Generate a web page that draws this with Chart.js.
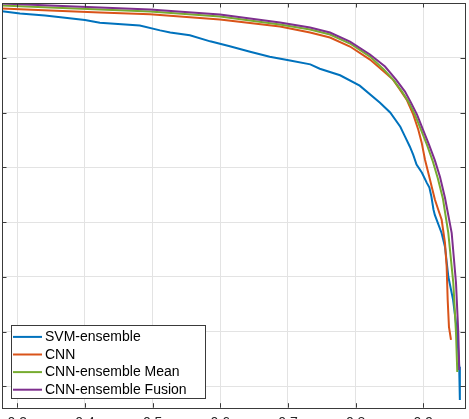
<!DOCTYPE html>
<html>
<head>
<meta charset="utf-8">
<script src="https://cdn.jsdelivr.net/npm/chart.js@4/dist/chart.umd.min.js"></script>
<style>
  html, body { margin: 0; padding: 0; background: #ffffff; overflow: hidden; }
  #wrap { position: relative; width: 469px; height: 419px; overflow: hidden; }
  canvas { position: absolute; left: 0; top: 0; }
</style>
</head>
<body>
<div id="wrap"><canvas id="c" width="469" height="440"></canvas></div>
<script>
// ---- data (recall on x, precision on y) ----
const seriesNames = ['SVM-ensemble', 'CNN', 'CNN-ensemble Mean', 'CNN-ensemble Fusion'];
const seriesColors = ['#0072BD', '#D95319', '#77AC30', '#7E2F8E'];

const svmRecall = [0.2774,0.304,0.341,0.400,0.422,0.481,0.511,0.526,0.555,0.585,0.614,0.644,0.673,0.703,0.733,0.747,0.777,0.806,0.836,0.851,0.866,0.873,0.880,0.885,0.890,0.898,0.905,0.909,0.912,0.915,0.917,0.927,0.932,0.937,0.944,0.950,0.953,0.954];
const svmPrecision = [0.985,0.981,0.977,0.969,0.964,0.959,0.950,0.946,0.941,0.930,0.921,0.911,0.902,0.895,0.888,0.880,0.868,0.849,0.818,0.800,0.774,0.756,0.738,0.723,0.705,0.690,0.672,0.663,0.646,0.623,0.613,0.580,0.555,0.500,0.458,0.398,0.336,0.275];

const cnnRecall = [0.2774,0.3483,0.4222,0.4961,0.5995,0.6882,0.7326,0.7621,0.7917,0.8212,0.8434,0.8552,0.8655,0.8754,0.8852,0.8926,0.8976,0.9025,0.9088,0.9124,0.9172,0.9221,0.9271,0.9320,0.9345,0.9360,0.9379,0.9409];
const cnnPrecision = [0.9899,0.9863,0.9826,0.9795,0.9698,0.9570,0.9461,0.9369,0.9205,0.8967,0.8729,0.8601,0.8419,0.8236,0.7962,0.7687,0.7450,0.7139,0.6828,0.6645,0.6408,0.6225,0.6042,0.5621,0.5183,0.4580,0.4086,0.3848];

const meanRecall = [0.2774,0.3483,0.4222,0.4961,0.5995,0.6882,0.7326,0.7621,0.7917,0.8212,0.8419,0.8567,0.8685,0.8788,0.8876,0.8965,0.9053,0.9142,0.9216,0.9290,0.9369,0.9443,0.9483,0.9502];
const meanPrecision = [0.9954,0.9918,0.9881,0.9845,0.9753,0.9607,0.9516,0.9424,0.9260,0.9022,0.8784,0.8583,0.8382,0.8181,0.7962,0.7687,0.7413,0.7102,0.6792,0.6426,0.5804,0.4890,0.3976,0.3263];

const fusionRecall = [0.2774,0.3483,0.4222,0.4961,0.5995,0.6882,0.7326,0.7621,0.7917,0.8212,0.8434,0.8597,0.8729,0.8818,0.8907,0.8995,0.9084,0.9172,0.9246,0.9320,0.9419,0.9483,0.9517,0.9532];
const fusionPrecision = [0.9991,0.9954,0.9918,0.9881,0.9790,0.9644,0.9552,0.9461,0.9296,0.9059,0.8839,0.8601,0.8382,0.8181,0.7962,0.7687,0.7413,0.7121,0.6828,0.6444,0.5804,0.4890,0.3976,0.3300];

const xTickValues = [0.3, 0.4, 0.5, 0.6, 0.7, 0.8, 0.9];
const xTickLabels = ['0.3', '0.4', '0.5', '0.6', '0.7', '0.8', '0.9'];
const yTickValues = [0.3, 0.4, 0.5, 0.6, 0.7, 0.8, 0.9, 1.0];
const xRange = [0.2774, 0.9616];
const yRange = [0.261, 1.0];

const pairs = [[svmRecall, svmPrecision],[cnnRecall, cnnPrecision],[meanRecall, meanPrecision],[fusionRecall, fusionPrecision]];
const drawOrder = [4, 3, 2, 1];

const datasets = pairs.map((p, i) => ({
  label: seriesNames[i],
  data: p[0].map((r, k) => ({ x: r, y: p[1][k] })),
  borderColor: seriesColors[i],
  backgroundColor: seriesColors[i],
  borderWidth: 2,
  pointRadius: 0,
  tension: 0,
  fill: false,
  order: drawOrder[i]
}));

const FONT = "'Liberation Sans', Arial, Helvetica, sans-serif";
const AXIS = '#262626';

const boxPlugin = {
  id: 'matlabBox',
  afterDraw(chart) {
    const ctx = chart.ctx;
    const a = chart.chartArea;
    const xs = chart.scales.x, ys = chart.scales.y;
    ctx.save();
    ctx.strokeStyle = '#3a3a3a';
    ctx.lineWidth = 1;
    // inward tick marks
    ctx.beginPath();
    xTickValues.forEach(v => {
      const px = Math.round(xs.getPixelForValue(v)) + 0.5;
      ctx.moveTo(px, a.bottom); ctx.lineTo(px, a.bottom - 4.5);
      ctx.moveTo(px, a.top); ctx.lineTo(px, a.top + 4.5);
    });
    yTickValues.forEach(v => {
      const py = Math.round(ys.getPixelForValue(v)) + 0.5;
      ctx.moveTo(a.left, py); ctx.lineTo(a.left + 4.5, py);
      ctx.moveTo(a.right, py); ctx.lineTo(a.right - 4.5, py);
    });
    ctx.stroke();
    // box
    ctx.strokeRect(Math.round(a.left) + 0.5, Math.round(a.top) + 0.5,
                   Math.round(a.right - a.left), Math.round(a.bottom - a.top));
    // legend
    const lx = a.left + 9, ly = a.bottom - 9.5 - 73;
    const lw = 194, lh = 73;
    ctx.fillStyle = '#ffffff';
    ctx.fillRect(lx, ly, lw, lh);
    ctx.strokeStyle = '#3a3a3a';
    ctx.strokeRect(Math.round(lx) + 0.5, Math.round(ly) + 0.5, lw, lh);
    ctx.font = '14px ' + FONT;
    ctx.textBaseline = 'middle';
    ctx.textAlign = 'left';
    chart.data.datasets.forEach((ds, i) => {
      const cy = ly + 11.7 + i * 17.6;
      ctx.strokeStyle = ds.borderColor;
      ctx.lineWidth = 2;
      ctx.beginPath();
      ctx.moveTo(lx + 2, cy); ctx.lineTo(lx + 31, cy);
      ctx.stroke();
      ctx.fillStyle = '#000000';
      ctx.fillText(ds.label, lx + 34, cy + 0.5);
    });
    ctx.restore();
  }
};

new Chart(document.getElementById('c'), {
  type: 'line',
  data: { datasets },
  options: {
    responsive: false,
    animation: false,
    parsing: true,
    layout: { padding: { top: 3, right: 4, left: 0, bottom: 0 } },
    plugins: { legend: { display: false }, tooltip: { enabled: false } },
    scales: {
      x: {
        type: 'linear',
        min: xRange[0], max: xRange[1],
        afterBuildTicks: s => { s.ticks = xTickValues.map(v => ({ value: v })); },
        afterFit: s => { s.height = 440 - 407.7; },
        grid: { color: '#e3e3e3', lineWidth: 1, drawTicks: false },
        border: { display: false },
        ticks: {
          autoSkip: false, maxRotation: 0, padding: 7,
          color: AXIS, font: { family: FONT, size: 14 },
          callback: (v, i) => xTickLabels[i]
        }
      },
      y: {
        type: 'linear',
        min: yRange[0], max: yRange[1],
        afterBuildTicks: s => { s.ticks = yTickValues.map(v => ({ value: v })); },
        afterFit: s => { s.width = 2; },
        grid: { color: '#e3e3e3', lineWidth: 1, drawTicks: false },
        border: { display: false },
        ticks: { display: false }
      }
    }
  },
  plugins: [boxPlugin]
});
</script>
</body>
</html>
